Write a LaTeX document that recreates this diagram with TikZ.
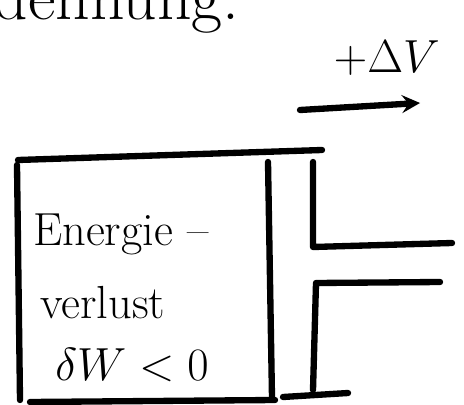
\RequirePackage{fix-cm}
\documentclass[tikz,border=0pt]{standalone}
\usetikzlibrary{positioning}
\begin{document}
\begin{tikzpicture}[x=0.025cm, y=-0.025cm, node distance=0.2cm, >=stealth]
    \tikzstyle{pen}=[line width=4.5pt, line cap=round, line join=round]
    \tikzstyle{hand}=[inner sep=0pt, font=\fontsize{33}{40}\selectfont]
    \clip (0,0) rectangle (464,405);
    % heading, only its lower part is on the sheet
    \node[hand, anchor=base east, font=\fontsize{48}{56}\selectfont] (titel) at (240,20) {Ausdehnung.};
    % cylinder
    \draw[pen] (18,160) -- (322,150);
    \draw[pen] (17,165) -- (20,400);
    \draw[pen] (30,402) -- (275,400);
    \draw[pen] (268,162) -- (272,398);
    % piston and rod
    \draw[pen] (313,162) -- (313,247) -- (452,243);
    \draw[pen] (440,282) -- (316,283) -- (313,390);
    \draw[pen] (283,397) -- (348,393);
    % text in the cylinder
    \node[hand, anchor=base west] (energie) at (33,245) {Energie --};
    \node[hand, anchor=base west] (verlust) at (40,318) {verlust};
    \node[hand, anchor=base west] (dw) at (55,380) {$\delta W<0$};
    % volume change
    \coordinate (start) at (300,110);
    \coordinate (ende) at (420,103);
    \draw[pen,->] (start) -- (ende);
    \node[hand, above right=0.75cm and 0.5cm of ende, anchor=base east] (dv) {$+\Delta V$};
\end{tikzpicture}
\end{document}
